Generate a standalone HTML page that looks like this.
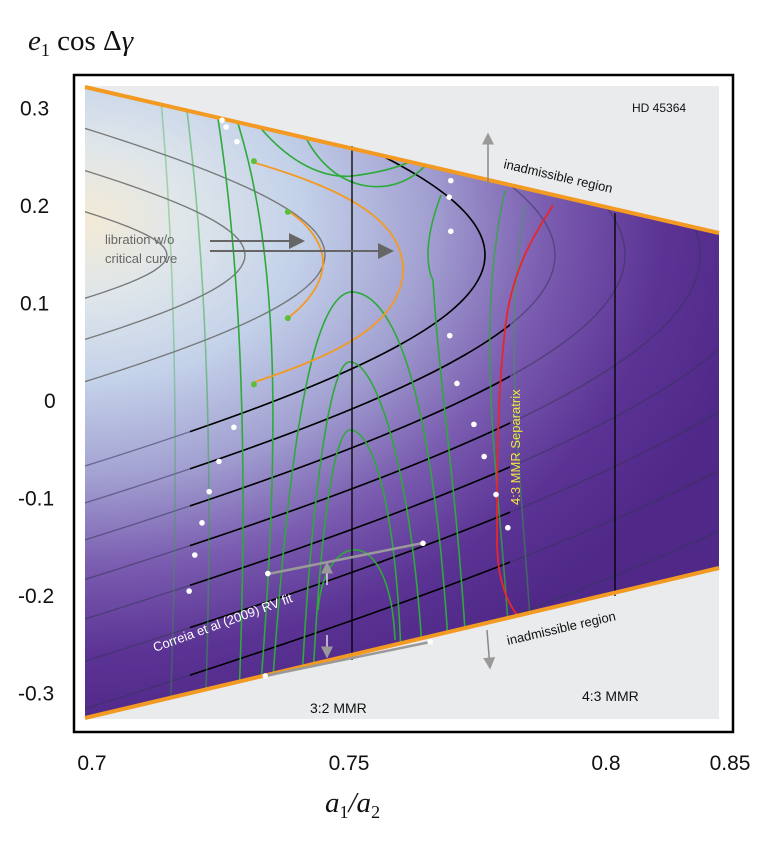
<!DOCTYPE html>
<html><head><meta charset="utf-8">
<style>
html,body{margin:0;padding:0;background:#fff;}
body{width:763px;height:856px;overflow:hidden;font-family:"Liberation Sans",sans-serif;}
svg{position:absolute;left:0;top:0;}
</style></head>
<body>
<svg width="763" height="856" viewBox="0 0 763 856">
<defs>
<radialGradient id="bg" gradientUnits="userSpaceOnUse" cx="85" cy="220" r="680" gradientTransform="translate(85 220) scale(1 0.75) translate(-85 -220)">
<stop offset="0" stop-color="#f3ead6"/>
<stop offset="0.15" stop-color="#dfe6ea"/>
<stop offset="0.32" stop-color="#c3d1e9"/>
<stop offset="0.5" stop-color="#a3a2d2"/>
<stop offset="0.68" stop-color="#7a5cb0"/>
<stop offset="0.85" stop-color="#5b3394"/>
<stop offset="1" stop-color="#4f2888"/>
</radialGradient>
<clipPath id="dom"><polygon points="85,87 719,233 719,568 85,718"/></clipPath>
<clipPath id="band"><rect x="190" y="80" width="320" height="650"/></clipPath>
<marker id="ah" markerWidth="8" markerHeight="8" refX="7" refY="4" orient="auto"><path d="M0,0 L8,4 L0,8 z" fill="#666"/></marker>
<marker id="ah2" markerWidth="8" markerHeight="8" refX="7" refY="4" orient="auto"><path d="M0,0 L8,4 L0,8 z" fill="#999"/></marker>
</defs>

<rect x="74" y="75" width="659" height="657" fill="#fff" stroke="#000" stroke-width="2.5"/>
<rect x="85" y="86" width="634" height="633" fill="#eaebed"/>
<polygon points="85,87 719,233 719,568 85,718" fill="url(#bg)"/>

<g id="contours" clip-path="url(#dom)" fill="none"></g>
<g clip-path="url(#dom)" fill="none" stroke="#2eaa3a" stroke-width="1.6">
<path d="M160,90 C175,250 180,450 170,720" stroke-opacity="0.35"/>
<path d="M185,95 C205,250 215,450 205,720" stroke-opacity="0.5"/>
<path d="M215,100 C240,250 250,450 238,720"/>
<path d="M232,105 C275,230 285,400 258,720" />
<path d="M248,112 C290,170 330,178 352,176 C385,172 405,165 417,158"/>
<path d="M270,720 C285,500 305,300 350,292 C400,290 440,420 452,720"/>
<path d="M300,720 C310,500 330,360 350,362 C380,362 420,500 425,720"/>
<path d="M312,700 C320,520 335,430 350,430 C375,430 400,520 402,700"/>
<path d="M318,610 C325,530 390,520 395,640"/>
<path d="M300,125 C330,200 400,200 430,160"/>
<path d="M441,195 C420,250 430,275 433,280 C440,400 460,500 470,720"/>
<path d="M505,190 C470,350 505,500 512,700" stroke-opacity="0.8"/>
<path d="M525,205 C500,350 525,500 535,700" stroke-opacity="0.45"/>
</g>
<path d="M252,162 C330,185 405,215 403,272 C400,330 320,360 252,383" fill="none" stroke="#f39a22" stroke-width="1.8"/>
<path d="M288,211 C310,225 323,245 323,262 C323,285 305,305 288,318" fill="none" stroke="#f39a22" stroke-width="1.8"/>
<path d="M553,205 C545,220 512,260 505,330 C497,400 497,470 497,540 C497,580 508,605 519,617" fill="none" stroke="#e8262a" stroke-width="1.8"/>
<line x1="352" y1="146" x2="352" y2="660" stroke="#000" stroke-width="1.3"/>
<line x1="615" y1="213" x2="615" y2="596" stroke="#000" stroke-width="1.3"/>
<line x1="85" y1="87" x2="719" y2="233" stroke="#f39a22" stroke-width="4"/>
<line x1="85" y1="718" x2="719" y2="568" stroke="#f39a22" stroke-width="4"/>

<line x1="268" y1="574" x2="423" y2="543" stroke="#999" stroke-width="2.5"/>
<line x1="265" y1="676" x2="430" y2="642" stroke="#999" stroke-width="2.5"/>
<g id="dots"></g>

<line x1="210" y1="241" x2="303" y2="241" stroke="#666" stroke-width="2" marker-end="url(#ah)"/>
<line x1="210" y1="251" x2="392" y2="251" stroke="#666" stroke-width="2" marker-end="url(#ah)"/>
<text x="105" y="244" font-size="13" fill="#666">libration w/o</text>
<text x="105" y="263" font-size="13" fill="#666">critical curve</text>
<line x1="488" y1="184" x2="488" y2="134" stroke="#888" stroke-width="1.5" marker-end="url(#ah2)"/>
<line x1="487" y1="630" x2="490" y2="668" stroke="#888" stroke-width="1.5" marker-end="url(#ah2)"/>
<line x1="327" y1="585" x2="327" y2="563" stroke="#ddd" stroke-width="1.5" marker-end="url(#ah2)"/>
<line x1="327" y1="635" x2="327" y2="657" stroke="#ddd" stroke-width="1.5" marker-end="url(#ah2)"/>

<text x="632" y="112" font-size="12" fill="#111">HD 45364</text>
<text x="0" y="0" font-size="13" fill="#111" transform="translate(503,168) rotate(13)">inadmissible region</text>
<text x="0" y="0" font-size="13" fill="#111" transform="translate(508,645) rotate(-13)">inadmissible region</text>
<text x="310" y="713" font-size="14" fill="#111">3:2 MMR</text>
<text x="582" y="701" font-size="14" fill="#111">4:3 MMR</text>
<text x="0" y="0" font-size="13" fill="#f2e640" transform="translate(520,505) rotate(-90)">4:3 MMR Separatrix</text>
<text x="0" y="0" font-size="13" fill="#fff" transform="translate(155,652) rotate(-20)">Correia et al (2009) RV fit</text>

<g id="ticks"></g>
<text x="28" y="50" font-family="Liberation Serif,serif" font-size="29" fill="#111"><tspan font-style="italic">e</tspan><tspan font-size="18" dy="6">1</tspan><tspan dy="-6"> cos Δ</tspan><tspan font-style="italic">γ</tspan></text>
<text x="325" y="812" font-family="Liberation Serif,serif" font-size="29" fill="#111"><tspan font-style="italic">a</tspan><tspan font-size="18" dy="6">1</tspan><tspan dy="-6" font-style="italic">/a</tspan><tspan font-size="18" dy="6">2</tspan></text>
</svg>
<script>
const xTicks = [0.7, 0.75, 0.8, 0.85];
const xTickLabels = ["0.7", "0.75", "0.8", "0.85"];
const yTicks = [0.3, 0.2, 0.1, 0, -0.1, -0.2, -0.3];
const yTickLabels = ["0.3", "0.2", "0.1", "0", "-0.1", "-0.2", "-0.3"];
const dotA = [0.7253,0.7261,0.7282,0.7698,0.7695,0.7698,0.7696,0.7710,0.7276,0.7247,0.7228,0.7214,0.7200,0.7189,0.7342,0.7644,0.7337,0.7658,0.7743,0.7763,0.7786,0.7809];
const dotE = [0.287,0.280,0.265,0.225,0.208,0.173,0.066,0.017,-0.028,-0.063,-0.094,-0.126,-0.159,-0.196,-0.178,-0.147,-0.283,-0.248,-0.025,-0.058,-0.097,-0.131];
const greenA = [0.7315,0.7381,0.7381,0.7315];
const greenE = [0.245,0.193,0.084,0.016];
const contourD = [82,160,240,400,470,540,615,690,770,860,960,1080,1220,1400,1650];
function xs(a){ return 92 + (a-0.7)*5140; }
function ys(e){ return 400 - e*975; }
const NS="http://www.w3.org/2000/svg";
const cg=document.getElementById('contours');
function hyper(d){
  const X0=85+d, B=0.49*d, A=B/0.23;
  let s='';
  for(let dy=-520;dy<=520;dy+=4){
    const x=X0-A*(Math.sqrt(1+(dy/B)*(dy/B))-1);
    s+=(s?'L':'M')+x.toFixed(1)+','+(255+dy).toFixed(1);
  }
  return s;
}
contourD.forEach(function(d){
  const p=document.createElementNS(NS,'path');
  
  
  p.setAttribute('d',hyper(d));
  p.setAttribute('stroke', d<330?'#6e6e6e':'#34345a');p.setAttribute('stroke-opacity',d<330?0.9:0.55);p.setAttribute('stroke-width',1.4);
  cg.appendChild(p);
  if(d>=330 && d<=1100){
    const b=document.createElementNS(NS,'path');
    
    
    b.setAttribute('d',hyper(d));
    b.setAttribute('stroke','#000');b.setAttribute('stroke-width',1.6);b.setAttribute('clip-path','url(#band)');
    cg.appendChild(b);
  }
});
const dg=document.getElementById('dots');
for(let i=0;i<dotA.length;i++){
  const c=document.createElementNS(NS,'circle');
  
  
  c.setAttribute('cx',xs(dotA[i]));c.setAttribute('cy',ys(dotE[i]));c.setAttribute('r',2.8);c.setAttribute('fill','#fff');
  dg.appendChild(c);
}
for(let i=0;i<greenA.length;i++){
  const c=document.createElementNS(NS,'circle');
  
  
  c.setAttribute('cx',xs(greenA[i]));c.setAttribute('cy',ys(greenE[i]));c.setAttribute('r',3);c.setAttribute('fill','#5cbf3a');
  dg.appendChild(c);
}
const tg=document.getElementById('ticks');
xTicks.forEach(function(v,i){
  const t=document.createElementNS(NS,'text');
  
  
  t.setAttribute('x',Math.min(xs(v),730));t.setAttribute('y',770);t.setAttribute('text-anchor','middle');t.setAttribute('font-size','21');t.setAttribute('fill','#111');
  t.textContent=xTickLabels[i];tg.appendChild(t);
});
yTicks.forEach(function(v,i){
  const t=document.createElementNS(NS,'text');
  
  
  t.setAttribute('x',v===0?44:(v<0?18:20));t.setAttribute('y',ys(v)+8);t.setAttribute('font-size','21');t.setAttribute('fill','#111');
  t.textContent=yTickLabels[i];tg.appendChild(t);
});
</script>
</body></html>
